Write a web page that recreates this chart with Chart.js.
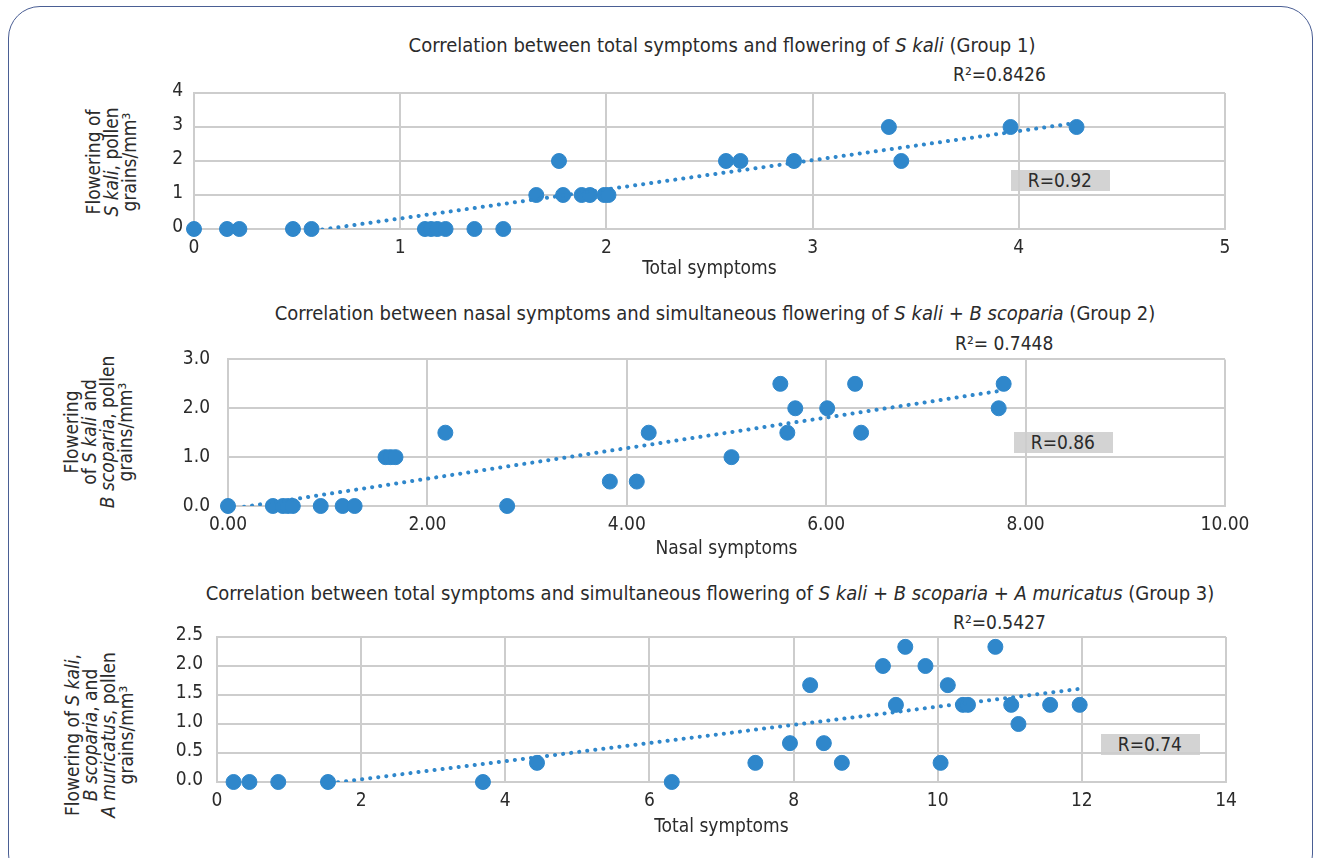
<!DOCTYPE html>
<html>
<head>
<meta charset="utf-8">
<script src="https://cdn.jsdelivr.net/npm/chart.js@4.4.1/dist/chart.umd.min.js"></script>
<style>
  body { margin: 0; background: #fff; width: 1322px; height: 858px; overflow: hidden; position: relative;
         font-family: "Liberation Sans Narrow", "DejaVu Sans Condensed", sans-serif; color: #2b2b2b; }
  .frame { position: absolute; left: 8px; top: 6px; width: 1305px; height: 880px; border: 1.5px solid #4a5e94;
           border-radius: 32px; box-sizing: border-box; }
  canvas { position: absolute; left: 0; }
  .ttl { position: absolute; font-size: 20px; white-space: nowrap; transform: translate(-50%, -50%); }
  .r2 { position: absolute; font-size: 19px; white-space: nowrap; transform: translateY(-50%); }
  .rbox { position: absolute; background: #d3d3d3; font-size: 19px; text-align: right; box-sizing: border-box;
          padding-right: 18px; line-height: 21px; }
  .ylab { position: absolute; font-size: 19px; line-height: 18px; text-align: center; white-space: nowrap;
          transform: translate(-50%, -50%) rotate(-90deg); }
</style>
</head>
<body>
<div class="frame"></div>

<div class="ttl" style="left:722px;top:45px">Correlation between total symptoms and flowering of <i>S kali</i> (Group 1)</div>
<div class="ttl" style="left:715px;top:313px">Correlation between nasal symptoms and simultaneous flowering of <i>S kali</i> + <i>B scoparia</i> (Group 2)</div>
<div class="ttl" style="left:710px;top:593px">Correlation between total symptoms and simultaneous flowering of <i>S kali</i> + <i>B scoparia</i> + <i>A muricatus</i> (Group 3)</div>

<div class="ylab" style="left:111px;top:162px">Flowering of<br><i>S kali</i>, pollen<br>grains/mm³</div>
<div class="ylab" style="left:98px;top:432px">Flowering<br>of <i>S kali</i> and<br><i>B scoparia</i>, pollen<br>grains/mm³</div>
<div class="ylab" style="left:99px;top:735px">Flowering of <i>S kali</i>,<br><i>B scoparia</i>, and<br><i>A muricatus</i>, pollen<br>grains/mm³</div>

<div id="r2a" class="r2" style="left:953px;top:74px"></div>
<div id="r2b" class="r2" style="left:955px;top:343px"></div>
<div id="r2c" class="r2" style="left:953px;top:622px"></div>
<div id="ra" class="rbox" style="left:1011px;top:170px;width:99px;height:21px"></div>
<div id="rb" class="rbox" style="left:1014px;top:432px;width:99px;height:21px"></div>
<div id="rc" class="rbox" style="left:1101px;top:734px;width:99px;height:21px"></div>

<canvas id="c1" width="1322" height="220" style="top:60px"></canvas>
<canvas id="c2" width="1322" height="230" style="top:330px"></canvas>
<canvas id="c3" width="1322" height="228" style="top:610px"></canvas>

<script>
// Group 1: total symptoms vs S kali
const g1X = [0, 0.16, 0.22, 0.48, 0.57, 1.12, 1.15, 1.18, 1.22, 1.36, 1.5, 1.66, 1.77, 1.79, 1.88, 1.92, 1.99, 2.01, 2.58, 2.65, 2.91, 3.37, 3.43, 3.96, 4.28];
const g1Y = [0, 0, 0, 0, 0, 0, 0, 0, 0, 0, 0, 1, 2, 1, 1, 1, 1, 1, 2, 2, 2, 3, 2, 3, 3];
const g1XTicks = [0, 1, 2, 3, 4, 5];
const g1YTicks = [0, 1, 2, 3, 4];

// Group 2: nasal symptoms vs S kali + B scoparia
const g2X = [0, 0.45, 0.55, 0.6, 0.65, 0.93, 1.15, 1.27, 1.58, 1.63, 1.68, 2.18, 2.8, 3.83, 4.1, 4.22, 5.05, 5.54, 5.61, 5.69, 6.01, 6.29, 6.35, 7.73, 7.78];
const g2Y = [0, 0, 0, 0, 0, 0, 0, 0, 1, 1, 1, 1.5, 0, 0.5, 0.5, 1.5, 1, 2.5, 1.5, 2, 2, 2.5, 1.5, 2, 2.5];
const g2XTicks = [0, 2, 4, 6, 8, 10];
const g2YTicks = [0, 1, 2, 3];

// Group 3: total symptoms vs S kali + B scoparia + A muricatus
const g3X = [0.23, 0.45, 0.85, 1.54, 3.69, 4.44, 6.31, 7.47, 7.95, 8.23, 8.42, 8.67, 9.24, 9.42, 9.55, 9.83, 10.04, 10.14, 10.35, 10.42, 10.8, 11.02, 11.12, 11.56, 11.97];
const g3Y = [0, 0, 0, 0, 0, 0.33, 0, 0.33, 0.67, 1.67, 0.67, 0.33, 2, 1.33, 2.33, 2, 0.33, 1.67, 1.33, 1.33, 2.33, 1.33, 1, 1.33, 1.33];
const g3XTicks = [0, 2, 4, 6, 8, 10, 12, 14];
const g3YTicks = [0, 0.5, 1, 1.5, 2, 2.5];

const rSquared = ['R²=0.8426', 'R²= 0.7448', 'R²=0.5427'];
const rValues = ['R=0.92', 'R=0.86', 'R=0.74'];

const FONT = '"Liberation Sans Narrow", "DejaVu Sans Condensed", sans-serif';
const TEXT = '#2b2b2b';
const GRID = '#cdcdcd';
const BLUE = '#2f87cb';

// least squares line over the data's x range
function trend(xs, ys) {
  const n = xs.length;
  let sx = 0, sy = 0, sxx = 0, sxy = 0;
  for (let i = 0; i < n; i++) { sx += xs[i]; sy += ys[i]; sxx += xs[i] * xs[i]; sxy += xs[i] * ys[i]; }
  const b = (n * sxy - sx * sy) / (n * sxx - sx * sx);
  const a = (sy - b * sx) / n;
  const x0 = Math.min(...xs), x1 = Math.max(...xs);
  return [{x: x0, y: a + b * x0}, {x: x1, y: a + b * x1}];
}

function panel(id, xs, ys, xTicks, yTicks, xDec, yDec, xTitle, g) {
  const font = {family: FONT, size: 19};
  new Chart(document.getElementById(id), {
    type: 'scatter',
    data: {
      datasets: [
        {
          type: 'line', data: trend(xs, ys), borderColor: BLUE, borderWidth: 4,
          borderDash: [0.1, 8], borderCapStyle: 'round', pointRadius: 0, fill: false, clip: 0, order: 0
        },
        {
          data: xs.map((x, i) => ({x: x, y: ys[i]})), backgroundColor: BLUE, borderColor: BLUE,
          pointRadius: 7.5, pointHoverRadius: 7.5, clip: false, order: 1
        }
      ]
    },
    options: {
      responsive: false,
      animation: false,
      events: [],
      layout: {padding: {top: g.top, left: g.left, right: g.right, bottom: 0}},
      plugins: {legend: {display: false}, tooltip: {enabled: false}},
      scales: {
        x: {
          type: 'linear', min: xTicks[0], max: xTicks[xTicks.length - 1],
          afterBuildTicks: s => { s.ticks = xTicks.map(v => ({value: v})); },
          afterFit: s => { s.height = g.xh; },
          ticks: {callback: v => v.toFixed(xDec), font: font, color: TEXT, padding: 8, maxRotation: 0, autoSkip: false},
          grid: {color: GRID, lineWidth: 2, drawTicks: false},
          border: {color: GRID, width: 2},
          title: {display: true, text: xTitle, font: font, color: TEXT, padding: 0}
        },
        y: {
          min: yTicks[0], max: yTicks[yTicks.length - 1],
          afterBuildTicks: s => { s.ticks = yTicks.map(v => ({value: v})); },
          afterFit: s => { s.width = g.yw; },
          ticks: {callback: v => v.toFixed(yDec), font: font, color: TEXT, padding: g.yp, labelOffset: g.lo},
          grid: {color: GRID, lineWidth: 2, drawTicks: false},
          border: {color: GRID, width: 2}
        }
      }
    }
  });
}

panel('c1', g1X, g1Y, g1XTicks, g1YTicks, 0, 0, 'Total symptoms', {top: 33, left: 120, right: 97, xh: 51, yw: 74, yp: 11, lo: -2});
panel('c2', g2X, g2Y, g2XTicks, g2YTicks, 2, 1, 'Nasal symptoms', {top: 25, left: 120, right: 97, xh: 54, yw: 108, yp: 18, lo: 0});
panel('c3', g3X, g3Y, g3XTicks, g3YTicks, 0, 1, 'Total symptoms', {top: 27, left: 120, right: 96, xh: 56, yw: 97, yp: 14, lo: -2});

['r2a', 'r2b', 'r2c'].forEach((id, i) => { document.getElementById(id).textContent = rSquared[i]; });
['ra', 'rb', 'rc'].forEach((id, i) => { document.getElementById(id).textContent = rValues[i]; });
</script>
</body>
</html>
